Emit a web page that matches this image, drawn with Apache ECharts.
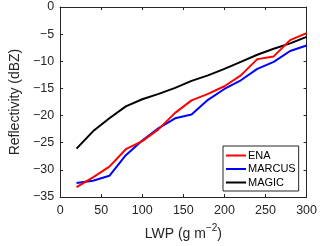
<!DOCTYPE html>
<html><head><meta charset="utf-8">
<script src="https://cdn.jsdelivr.net/npm/echarts@6/dist/echarts.min.js"></script>
<style>html,body{margin:0;padding:0;background:#fff}#c{width:320px;height:246px}</style>
</head><body><div id="c"></div>
<script>
var lwp = [20,40,60,80,100,120,140,160,180,200,220,240,260,280,300];
var ena = [-33.2,-31.4,-29.4,-26.2,-24.7,-22.5,-19.5,-17.2,-16.0,-14.6,-12.6,-9.6,-9.1,-6.1,-4.8];
var marcus = [-32.4,-32.0,-31.1,-27.3,-24.6,-22.3,-20.5,-19.8,-17.1,-15.1,-13.5,-11.4,-10.1,-8.1,-7.1];
var magic = [-26.1,-22.9,-20.5,-18.3,-17.0,-16.0,-14.9,-13.6,-12.6,-11.4,-10.1,-8.8,-7.7,-6.7,-5.5];
var seriesNames = ['ENA','MARCUS','MAGIC'];
var seriesColors = ['#ff0000','#0000ff','#000000'];
var xTicks = [0,50,100,150,200,250,300];
var yTicks = [0,-5,-10,-15,-20,-25,-30,-35];

function pairs(v){ return lwp.map(function(x,i){ return [x, v[i]]; }); }
var vals = [ena, marcus, magic];
var font = 'Liberation Sans, Arial, Helvetica, sans-serif';
var axCol = '#262626';
function fmt(v){ return v < 0 ? '\u2212' + Math.abs(v) : String(v); }
function baseX(pos, show){
  return {type:'value', position:pos, min:xTicks[0], max:xTicks[xTicks.length-1], interval:50,
    axisLine:{show:true, onZero:false, lineStyle:{color:axCol, width:1}},
    axisTick:{show:true, inside:true, length:3, lineStyle:{color:axCol}},
    axisLabel:{show:show, color:axCol, fontSize:12.5, fontFamily:font, margin:7, formatter:fmt},
    splitLine:{show:false}};
}
function baseY(pos, show){
  return {type:'value', position:pos, min:yTicks[yTicks.length-1], max:yTicks[0], interval:5,
    axisLine:{show:true, onZero:false, lineStyle:{color:axCol, width:1}},
    axisTick:{show:true, inside:true, length:3, lineStyle:{color:axCol}},
    axisLabel:{show:show, color:axCol, fontSize:12.5, fontFamily:font, margin:6, formatter:fmt},
    splitLine:{show:false}};
}
var x0 = baseX('bottom', true);
x0.name = '{a|LWP (g m}{s|\u22122}{a|)}';
x0.nameLocation = 'middle'; x0.nameGap = 26;
x0.nameTextStyle = {rich:{
  a:{fontSize:14, color:axCol, fontFamily:font, lineHeight:18, verticalAlign:'bottom'},
  s:{fontSize:10, color:axCol, fontFamily:font, lineHeight:18, verticalAlign:'top'}}};
var y0 = baseY('left', true);
y0.name = 'Reflectivity (dBZ)';
y0.nameLocation = 'middle'; y0.nameGap = 25;
y0.nameTextStyle = {fontSize:14, color:axCol, fontFamily:font};

var chart = echarts.init(document.getElementById('c'), null, {renderer:'canvas'});
chart.setOption({
  animation:false,
  backgroundColor:'#fff',
  grid:{left:41, right:13, top:7, bottom:44, containLabel:false},
  xAxis:[x0, baseX('top', false)],
  yAxis:[y0, baseY('right', false)],
  legend:{orient:'vertical', left:223, top:146, data:seriesNames,
    icon:'rect', itemWidth:20, itemHeight:2, itemGap:2.5,
    backgroundColor:'#fff', borderColor:axCol, borderWidth:1, borderRadius:0,
    padding:[4,3,3,3],
    textStyle:{fontSize:11, fontFamily:font, color:'#000', padding:[0,0,0,-3], lineHeight:11}},
  series: seriesNames.map(function(n,i){
    return {name:n, type:'line', data:pairs(vals[i]), showSymbol:false, symbol:'none',
      lineStyle:{color:seriesColors[i], width:2}, itemStyle:{color:seriesColors[i]}, z:3-i};
  })
});
</script></body></html>
